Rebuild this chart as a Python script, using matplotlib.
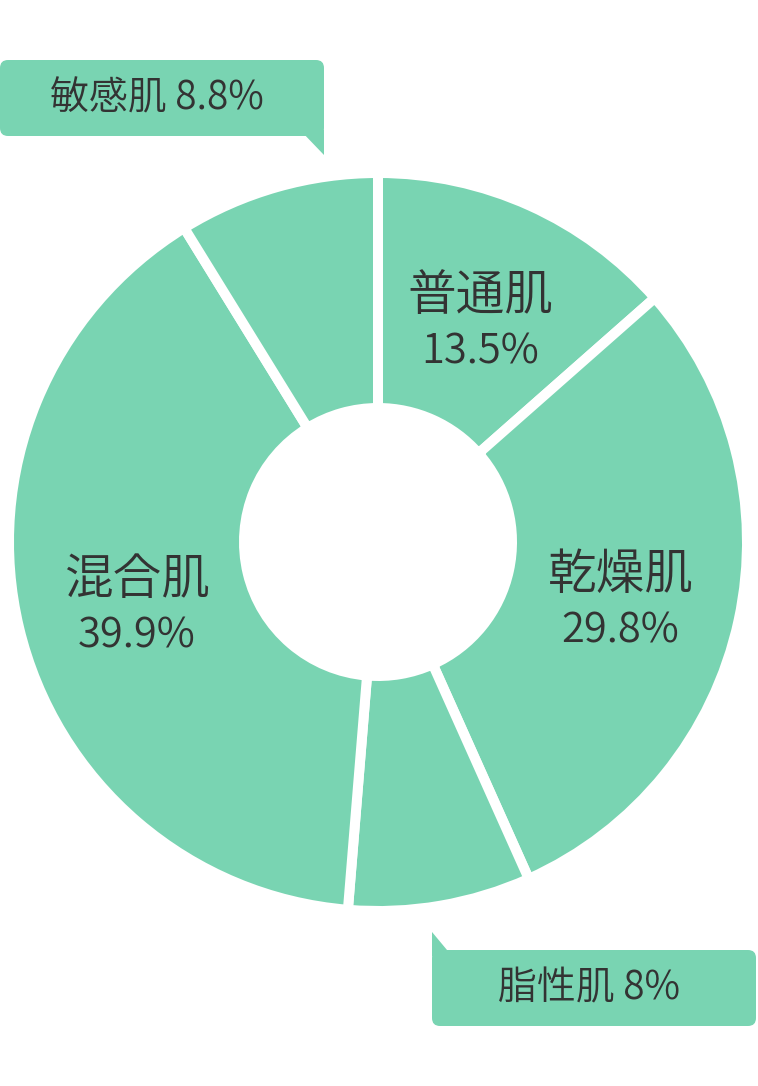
import numpy as np
import matplotlib
matplotlib.use("Agg")
import matplotlib.pyplot as plt
from matplotlib.patches import FancyBboxPatch, Polygon

# skin type shares (%), clockwise from 12 o'clock
labels = ["普通肌", "乾燥肌", "脂性肌", "混合肌", "敏感肌"]
values = [13.5, 29.8, 8, 39.9, 8.8]
# small slices get a callout box instead of an inner label
callout = ["脂性肌", "敏感肌"]

GREEN = "#79d4b2"
TEXT = "#333333"
W, H = 758, 1086
WEIGHT = 350

plt.rcParams["font.family"] = ["Noto Sans CJK JP", "DejaVu Sans"]

fig = plt.figure(figsize=(W / 100, H / 100), dpi=100)
ax = fig.add_axes([0, 0, 1, 1])

# work in pixel coords, y measured from the top
def py(y):
    return H - y

cx, cy = 378, py(542)
r_out, r_in, gap = 364, 139, 10

wedges, _ = ax.pie(values, startangle=90, counterclock=False,
                   center=(cx, cy), radius=r_out + gap / 2,
                   colors=[GREEN] * len(values),
                   wedgeprops=dict(width=(r_out - r_in) + gap,
                                   edgecolor="white",
                                   linewidth=gap * 0.72))

# labels inside the big slices, near mid ring
r_lab = 248
for w, lab, val in zip(wedges, labels, values):
    if lab in callout:
        continue
    ang = np.deg2rad((w.theta1 + w.theta2) / 2)
    x = cx + r_lab * np.cos(ang)
    y = cy + r_lab * np.sin(ang) - 8
    ax.text(x, y + 28, lab, ha="center", va="center",
            fontsize=35, color=TEXT, fontweight=WEIGHT)
    ax.text(x, y - 28, f"{val:g}%", ha="center", va="center",
            fontsize=30, color=TEXT, fontweight=WEIGHT)


def bubble(x0, y0, x1, y1, tail, text):
    box = FancyBboxPatch((x0, py(y1)), x1 - x0, y1 - y0,
                         boxstyle="round,pad=0,rounding_size=8",
                         fc=GREEN, ec="none")
    ax.add_patch(box)
    ax.add_patch(Polygon([(tx, py(ty)) for tx, ty in tail],
                         closed=True, fc=GREEN, ec="none"))
    ax.text((x0 + x1) / 2 - 5, py((y0 + y1) / 2), text,
            ha="center", va="center", fontsize=28, color=TEXT,
            fontweight=WEIGHT)


vals = dict(zip(labels, values))
bubble(0, 60, 324, 136, [(300, 130), (324, 130), (324, 155)],
       f"敏感肌 {vals['敏感肌']:g}%")
bubble(432, 950, 756, 1026, [(432, 932), (452, 956), (432, 956)],
       f"脂性肌 {vals['脂性肌']:g}%")

ax.set_xlim(0, W)
ax.set_ylim(0, H)
ax.set_aspect("auto")
ax.axis("off")

fig.savefig("out.png", dpi=100, facecolor="white")
